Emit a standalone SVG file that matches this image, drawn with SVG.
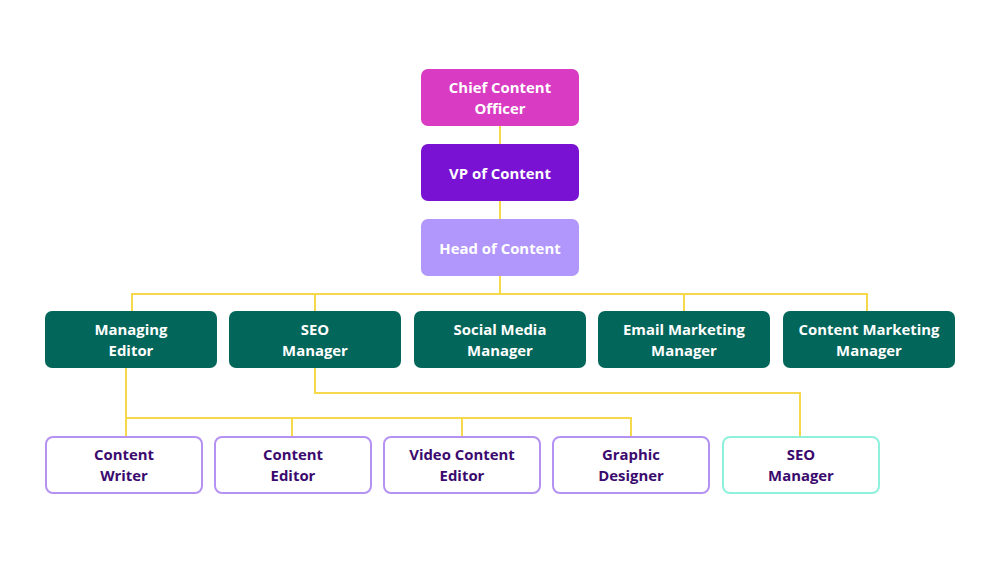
<svg xmlns="http://www.w3.org/2000/svg" width="1000" height="563" viewBox="0 0 1000 563">
<style>
.t{font-family:"Open Sans","Liberation Sans",sans-serif;font-weight:700;font-size:14.9px;text-anchor:middle;dominant-baseline:central}
.w{fill:#ffffff}
.d{fill:#3b0a6e}
.mid{fill:#03665a}
.low{fill:#ffffff;stroke:#b592f2;stroke-width:2}
.seo{fill:#ffffff;stroke:#8ff0dc;stroke-width:2}
.c{fill:none;stroke:#f6d84c;stroke-width:2}
</style>
<rect width="1000" height="563" fill="#ffffff"/>
<g id="connectors">
<path class="c" d="M500 126V144M500 201V219M500 276V294M132 311V294H867V311M315 294V311M684 294V311"/>
<path class="c" d="M126 368V418H631V437M126 418V437M292 418V437M462 418V437"/>
<path class="c" d="M315 368V393H800V437"/>
</g>
<g id="chief"><rect x="421" y="69" width="158" height="57" rx="7" fill="#d93bc2"/><text class="t w" x="500" y="87">Chief Content</text><text class="t w" x="500" y="108">Officer</text></g>
<g id="vp"><rect x="421" y="144" width="158" height="57" rx="7" fill="#7a12d3"/><text class="t w" x="500" y="172.5">VP of Content</text></g>
<g id="head"><rect x="421" y="219" width="158" height="57" rx="7" fill="#b197fc"/><text class="t w" x="500" y="247.5">Head of Content</text></g>
<g id="managing-editor"><rect class="mid" x="45" y="311" width="172" height="57" rx="7"/><text class="t w" x="131" y="329">Managing</text><text class="t w" x="131" y="350">Editor</text></g>
<g id="seo-manager"><rect class="mid" x="229" y="311" width="172" height="57" rx="7"/><text class="t w" x="315" y="329">SEO</text><text class="t w" x="315" y="350">Manager</text></g>
<g id="social-media-manager"><rect class="mid" x="414" y="311" width="172" height="57" rx="7"/><text class="t w" x="500" y="329">Social Media</text><text class="t w" x="500" y="350">Manager</text></g>
<g id="email-marketing-manager"><rect class="mid" x="598" y="311" width="172" height="57" rx="7"/><text class="t w" x="684" y="329">Email Marketing</text><text class="t w" x="684" y="350">Manager</text></g>
<g id="content-marketing-manager"><rect class="mid" x="783" y="311" width="172" height="57" rx="7"/><text class="t w" x="869" y="329">Content Marketing</text><text class="t w" x="869" y="350">Manager</text></g>
<g id="content-writer"><rect class="low" x="46" y="437" width="156" height="56" rx="7"/><text class="t d" x="124" y="454">Content</text><text class="t d" x="124" y="475">Writer</text></g>
<g id="content-editor"><rect class="low" x="215" y="437" width="156" height="56" rx="7"/><text class="t d" x="293" y="454">Content</text><text class="t d" x="293" y="475">Editor</text></g>
<g id="video-content-editor"><rect class="low" x="384" y="437" width="156" height="56" rx="7"/><text class="t d" x="462" y="454">Video Content</text><text class="t d" x="462" y="475">Editor</text></g>
<g id="graphic-designer"><rect class="low" x="553" y="437" width="156" height="56" rx="7"/><text class="t d" x="631" y="454">Graphic</text><text class="t d" x="631" y="475">Designer</text></g>
<g id="seo-manager-2"><rect class="seo" x="723" y="437" width="156" height="56" rx="7"/><text class="t d" x="801" y="454">SEO</text><text class="t d" x="801" y="475">Manager</text></g>
</svg>
